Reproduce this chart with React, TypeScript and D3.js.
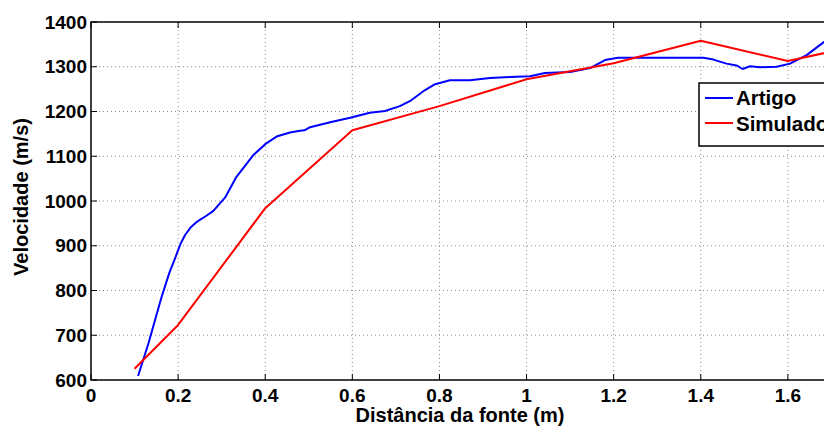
import React from "react";
import * as d3 from "d3";

// Distância (m) e velocidade (m/s) — curva do artigo
const artigoDist = [0.108, 0.132, 0.161, 0.18, 0.193, 0.205, 0.216, 0.228, 0.24, 0.25, 0.265, 0.281, 0.308, 0.334, 0.373, 0.4, 0.426, 0.457, 0.48, 0.49, 0.503, 0.549, 0.595, 0.64, 0.675, 0.709, 0.732, 0.767, 0.79, 0.824, 0.87, 0.916, 0.962, 1.008, 1.042, 1.1, 1.146, 1.18, 1.21, 1.3, 1.406, 1.429, 1.459, 1.482, 1.496, 1.513, 1.536, 1.574, 1.605, 1.643, 1.681, 1.7];
const artigoVel = [609, 682, 782, 840, 872, 903, 924, 940, 951, 958, 967, 978, 1008, 1054, 1103, 1127, 1144, 1153, 1157, 1158, 1165, 1176, 1186, 1197, 1201, 1212, 1223, 1248, 1261, 1270, 1270, 1275, 1277, 1279, 1286, 1288, 1297, 1315, 1320, 1320, 1320, 1316, 1307, 1303, 1295, 1301, 1299, 1300, 1307, 1326, 1354, 1366];

// Curva simulada
const simDist = [0.1, 0.2, 0.4, 0.6, 0.8, 1.0, 1.2, 1.4, 1.6, 1.8];
const simVel = [625, 723, 984, 1158, 1212, 1272, 1308, 1358, 1313, 1355];

const xTicks = [0, 0.2, 0.4, 0.6, 0.8, 1, 1.2, 1.4, 1.6, 1.8];
const yTicks = [600, 700, 800, 900, 1000, 1100, 1200, 1300, 1400];

const W = 824;
const H = 428;
const left = 91;
const top = 22;
const bottom = 380;
const right = 875;

export default function App() {
  const x = d3.scaleLinear().domain([0, 1.8]).range([left, right]);
  const y = d3.scaleLinear().domain([600, 1400]).range([bottom, top]);

  const line = d3
    .line<[number, number]>()
    .x((d) => x(d[0]))
    .y((d) => y(d[1]));

  const artigo = artigoDist.map((d, i) => [d, artigoVel[i]] as [number, number]);
  const sim = simDist.map((d, i) => [d, simVel[i]] as [number, number]);

  const font = "'Liberation Sans', Arial, Helvetica, sans-serif";

  return (
    <div style={{ position: "fixed", left: 0, top: 0 }}>
      <svg width={W} height={H} style={{ display: "block", background: "#fff" }} fontFamily={font}>
        <defs>
          <clipPath id="plotArea">
            <rect x={left} y={top} width={right - left} height={bottom - top} />
          </clipPath>
        </defs>

        {/* grid */}
        <g stroke="#8c8c8c" strokeWidth={1} strokeDasharray="1,3">
          {xTicks.slice(1).map((t) => (
            <line key={"gx" + t} x1={x(t)} x2={x(t)} y1={top} y2={bottom} />
          ))}
          {yTicks.slice(1, -1).map((t) => (
            <line key={"gy" + t} x1={left} x2={right} y1={y(t)} y2={y(t)} />
          ))}
        </g>

        {/* ticks */}
        <g stroke="#000" strokeWidth={1}>
          {xTicks.map((t) => (
            <g key={"tx" + t}>
              <line x1={x(t)} x2={x(t)} y1={bottom} y2={bottom - 6} />
              <line x1={x(t)} x2={x(t)} y1={top} y2={top + 6} />
            </g>
          ))}
          {yTicks.map((t) => (
            <line key={"ty" + t} x1={left} x2={left + 6} y1={y(t)} y2={y(t)} />
          ))}
        </g>

        {/* data */}
        <g clipPath="url(#plotArea)" fill="none" strokeWidth={2} strokeLinejoin="round">
          <path d={line(artigo) ?? ""} stroke="#0000ff" />
          <path d={line(sim) ?? ""} stroke="#ff0000" />
        </g>

        {/* frame */}
        <rect x={left} y={top} width={right - left} height={bottom - top} fill="none" stroke="#000" strokeWidth={1.5} />

        {/* tick labels (only those inside the drawing) */}
        <g fontWeight="bold" fontSize={19} fill="#000">
          {xTicks
            .filter((t) => x(t) + 12 < W)
            .map((t) => (
              <text key={"lx" + t} x={x(t)} y={402} textAnchor="middle">
                {d3.format("~g")(t)}
              </text>
            ))}
          {yTicks.map((t) => (
            <text key={"ly" + t} x={87} y={y(t)} dy="0.35em" textAnchor="end">
              {t}
            </text>
          ))}
        </g>

        {/* axis labels */}
        <text x={460} y={422} textAnchor="middle" fontWeight="bold" fontSize={20}>
          Distância da fonte (m)
        </text>
        <text
          transform={`translate(28,197) rotate(-90)`}
          textAnchor="middle"
          fontWeight="bold"
          fontSize={20}
        >
          Velocidade (m/s)
        </text>

        {/* legend */}
        <g>
          <rect x={699} y={83} width={140} height={63} fill="#fff" stroke="#000" strokeWidth={1.5} />
          <line x1={705} x2={733} y1={98} y2={98} stroke="#0000ff" strokeWidth={2} />
          <line x1={705} x2={733} y1={123} y2={123} stroke="#ff0000" strokeWidth={2} />
          <text x={736} y={105} fontWeight="bold" fontSize={20.5}>Artigo</text>
          <text x={736} y={131} fontWeight="bold" fontSize={20.5}>Simulado</text>
        </g>
      </svg>
    </div>
  );
}
